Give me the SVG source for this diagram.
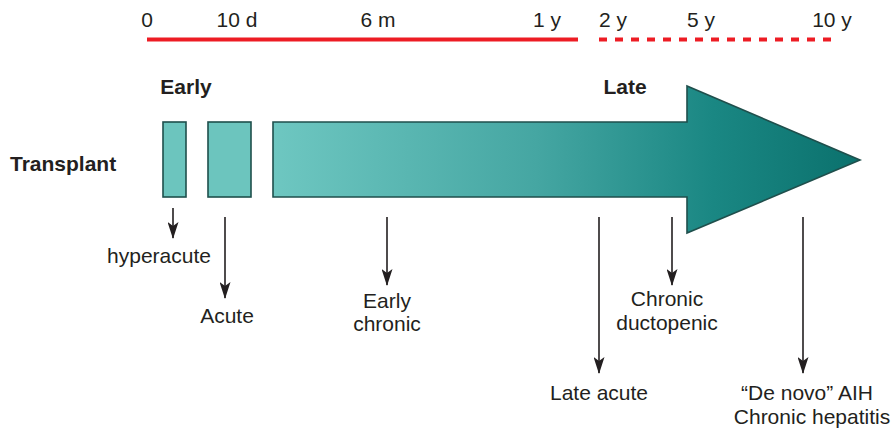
<svg xmlns="http://www.w3.org/2000/svg" width="893" height="431" viewBox="0 0 893 431">
<defs>
<style>
text{font-family:"Liberation Sans",Arial,sans-serif;font-size:21px;fill:#231f20}
.b{font-weight:bold}
.m{text-anchor:middle}
.box{fill:#6cc5be;stroke:#1f4f4c;stroke-width:1.6}
.con{stroke:#231f20;stroke-width:1.6;fill:none}
</style>
<linearGradient id="g" gradientUnits="userSpaceOnUse" x1="273" y1="0" x2="860" y2="0">
<stop offset="0" stop-color="#6ec7c1"/>
<stop offset="0.45" stop-color="#45a6a2"/>
<stop offset="0.75" stop-color="#1a8783"/>
<stop offset="1" stop-color="#0b716d"/>
</linearGradient>
<marker id="ah" markerWidth="17" markerHeight="11" refX="16" refY="5.5" orient="auto" markerUnits="userSpaceOnUse">
<path d="M0,0 L17,5.5 L0,11 L4,5.5 Z" fill="#231f20"/>
</marker>
</defs>
<g id="timeline">
<line x1="147" y1="39.5" x2="578" y2="39.5" stroke="#ed1c24" stroke-width="4"/>
<line x1="599" y1="39.5" x2="831" y2="39.5" stroke="#ed1c24" stroke-width="4" stroke-dasharray="8 8"/>
<text x="147" y="27" class="m">0</text>
<text x="237" y="27" class="m">10 d</text>
<text x="378" y="27" class="m">6 m</text>
<text x="547" y="27" class="m">1 y</text>
<text x="613" y="27" class="m">2 y</text>
<text x="701" y="27" class="m">5 y</text>
<text x="832" y="27" class="m">10 y</text>
</g>
<g id="labels">
<text x="186" y="94" class="b m">Early</text>
<text x="625" y="94" class="b m">Late</text>
<text x="10" y="171" class="b">Transplant</text>
</g>
<g id="box-hyperacute"><rect x="163" y="122" width="23" height="75" class="box"/></g>
<g id="box-acute"><rect x="208" y="122" width="43" height="75" class="box"/></g>
<g id="big-arrow"><path d="M273,122 L687,122 L687,86 L860,160 L687,233 L687,197 L273,197 Z" fill="url(#g)" stroke="#1f4f4c" stroke-width="1.6"/></g>
<g id="connectors" class="con" marker-end="url(#ah)">
<line x1="173" y1="208" x2="173" y2="238" class="con" marker-end="url(#ah)"/>
<line x1="225" y1="217" x2="225" y2="298" class="con" marker-end="url(#ah)"/>
<line x1="387" y1="217" x2="387" y2="285" class="con" marker-end="url(#ah)"/>
<line x1="599" y1="217" x2="599" y2="373" class="con" marker-end="url(#ah)"/>
<line x1="672" y1="217" x2="672" y2="285" class="con" marker-end="url(#ah)"/>
<line x1="803" y1="217" x2="803" y2="373" class="con" marker-end="url(#ah)"/>
</g>
<g id="n-hyperacute"><text x="159" y="263" class="m">hyperacute</text></g>
<g id="n-acute"><text x="227" y="323" class="m">Acute</text></g>
<g id="n-early-chronic"><text x="387" y="308" class="m">Early</text><text x="387" y="331" class="m">chronic</text></g>
<g id="n-late-acute"><text x="599" y="400" class="m">Late acute</text></g>
<g id="n-chronic-ductopenic"><text x="667" y="306" class="m">Chronic</text><text x="667" y="330" class="m">ductopenic</text></g>
<g id="n-denovo"><text x="807" y="400" class="m">“De novo” AIH</text><text x="812" y="424" class="m">Chronic hepatitis</text></g>
</svg>
